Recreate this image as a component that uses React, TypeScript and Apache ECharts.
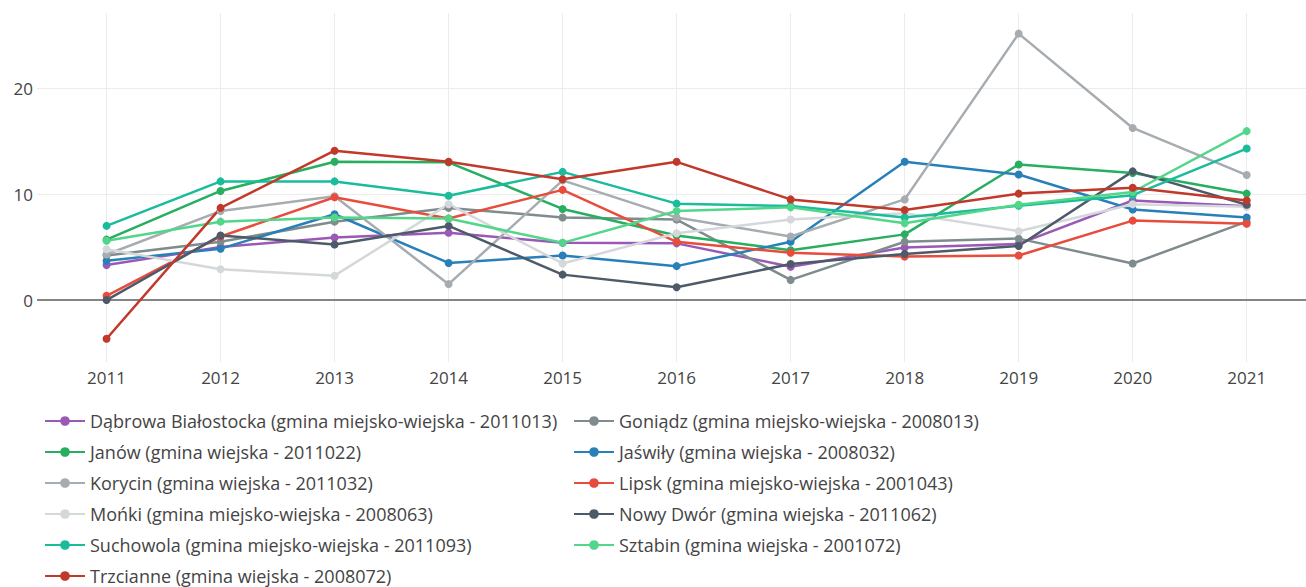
import React, { useEffect, useRef } from "react";
import * as echarts from "echarts";

const years = [2011, 2012, 2013, 2014, 2015, 2016, 2017, 2018, 2019, 2020, 2021];

const dabrowa = [3.3, 5.0, 5.9, 6.35, 5.4, 5.35, 3.15, 4.97, 5.3, 9.4, 8.85];
const goniadz = [4.2, 5.5, 7.4, 8.7, 7.8, 7.6, 1.9, 5.5, 5.8, 3.45, 7.4];
const janow = [5.7, 10.3, 13.05, 13.0, 8.6, 6.1, 4.7, 6.2, 12.8, 12.0, 10.05];
const jaswily = [3.7, 4.85, 8.1, 3.5, 4.2, 3.2, 5.5, 13.05, 11.85, 8.55, 7.8];
const korycin = [4.3, 8.4, 9.8, 1.5, 11.3, 7.8, 6.0, 9.5, 25.15, 16.25, 11.8];
const lipsk = [0.4, 6.0, 9.7, 7.7, 10.4, 5.5, 4.46, 4.1, 4.2, 7.5, 7.2];
const monki = [4.8, 2.9, 2.3, 9.05, 3.45, 6.3, 7.6, 8.2, 6.5, 9.05, 8.8];
const nowyDwor = [0.0, 6.1, 5.25, 7.0, 2.4, 1.2, 3.4, 4.35, 5.1, 12.15, 9.0];
const suchowola = [7.0, 11.2, 11.2, 9.85, 12.1, 9.1, 8.87, 7.8, 8.9, 9.9, 14.3];
const sztabin = [5.6, 7.4, 7.8, 7.7, 5.4, 8.4, 8.75, 7.25, 9.0, 10.2, 15.95];
const trzcianne = [-3.65, 8.7, 14.1, 13.05, 11.4, 13.05, 9.5, 8.5, 10.05, 10.6, 9.4];

const names = [
  "Dąbrowa Białostocka (gmina miejsko-wiejska - 2011013)",
  "Goniądz (gmina miejsko-wiejska - 2008013)",
  "Janów (gmina wiejska - 2011022)",
  "Jaświły (gmina wiejska - 2008032)",
  "Korycin (gmina wiejska - 2011032)",
  "Lipsk (gmina miejsko-wiejska - 2001043)",
  "Mońki (gmina miejsko-wiejska - 2008063)",
  "Nowy Dwór (gmina wiejska - 2011062)",
  "Suchowola (gmina miejsko-wiejska - 2011093)",
  "Sztabin (gmina wiejska - 2001072)",
  "Trzcianne (gmina wiejska - 2008072)",
];
const values = [dabrowa, goniadz, janow, jaswily, korycin, lipsk, monki, nowyDwor, suchowola, sztabin, trzcianne];
const colors = [
  "#9b59b6", "#7f8c8d", "#27ae60", "#2980b9", "#a6acb0", "#e74c3c",
  "#d5d8da", "#4d5b69", "#1abc9c", "#52d68a", "#c0392b",
];

const FONT = "'Open Sans', sans-serif";

export default function App() {
  const ref = useRef<HTMLDivElement>(null);
  useEffect(() => {
    if (!ref.current) return;
    const chart = echarts.init(ref.current, null, { renderer: "svg" });
    const series: any[] = names.map((n, i) => ({
      name: n,
      type: "line",
      data: years.map((y, j) => [y, values[i][j]]),
      symbol: "circle",
      symbolSize: 8,
      lineStyle: { width: 2.5, color: colors[i] },
      itemStyle: { color: colors[i] },
      z: 3,
    }));
    series[0].markLine = {
      silent: true,
      symbol: ["none", "none"],
      label: { show: false },
      lineStyle: { color: "#858585", width: 2, type: "solid" },
      data: [{ yAxis: 0 }],
      z: 1,
    };
    const leftNames = names.filter((_, i) => i % 2 === 0);
    const rightNames = names.filter((_, i) => i % 2 === 1);
    const legendBase = {
      orient: "vertical",
      top: 412,
      height: 175,
      padding: 0,
      itemWidth: 40,
      itemHeight: 12,
      itemGap: 13,
      textStyle: { fontFamily: FONT, fontSize: 18, color: "#444", lineHeight: 18 },
    };
    chart.setOption({
      animation: false,
      color: colors,
      grid: { left: 37, right: 0, top: 13, bottom: 225 },
      xAxis: {
        type: "value",
        min: 2010.39,
        max: 2021.52,
        splitNumber: 11,
        axisLine: { show: false },
        axisTick: { show: false },
        axisLabel: {
          showMinLabel: false,
          showMaxLabel: false,
          margin: 7,
          fontFamily: FONT,
          fontSize: 17,
          color: "#444",
          formatter: (v: number) => String(v),
        },
        splitLine: { show: true, showMinLine: false, showMaxLine: false, lineStyle: { color: "#ececec", width: 1 } },
      },
      yAxis: {
        type: "value",
        min: -5.85,
        max: 27.1,
        splitNumber: 3,
        axisLine: { show: false },
        axisTick: { show: false },
        axisLabel: {
          showMinLabel: false,
          showMaxLabel: false,
          margin: 4,
          fontFamily: FONT,
          fontSize: 17,
          color: "#444",
        },
        splitLine: { show: true, showMinLine: false, showMaxLine: false, lineStyle: { color: "#ececec", width: 1 } },
      },
      legend: [
        { ...legendBase, left: 44, data: leftNames },
        { ...legendBase, left: 573, data: rightNames },
      ],
      series,
    });
    return () => chart.dispose();
  }, []);
  return (
    <div
      ref={ref}
      style={{ position: "fixed", left: 0, top: 0, width: 1306, height: 587, background: "#fff" }}
    />
  );
}
